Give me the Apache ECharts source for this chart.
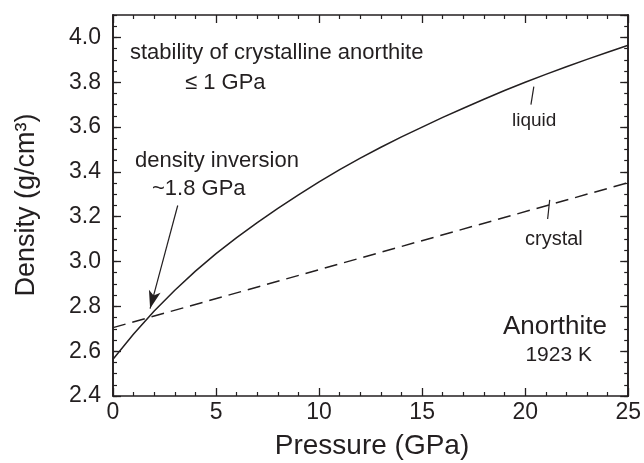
<!DOCTYPE html>
<html>
<head>
<meta charset="utf-8">
<script src="https://cdn.jsdelivr.net/npm/echarts@6/dist/echarts.min.js"></script>
<style>html,body{margin:0;padding:0;background:#fff}#c{width:644px;height:463px}</style>
</head>
<body>
<div id="c"></div>
<script>
// Data
const pressure = [0,1,2,3,4,5,6,7,8,9,10,11,12,13,14,15,16,17,18,19,20,21,22,23,24,25];
const liquidDensity = [2.564,2.677,2.779,2.872,2.957,3.035,3.107,3.174,3.237,3.297,3.355,3.410,3.461,3.510,3.556,3.600,3.643,3.684,3.724,3.763,3.800,3.835,3.869,3.902,3.934,3.965];
const crystalPressure = [0,25];
const crystalDensity = [2.705,3.352];
const xTicks = [0,5,10,15,20,25];
const yTicks = [2.4,2.6,2.8,3.0,3.2,3.4,3.6,3.8,4.0];
// annotation pointers (data coordinates)
const arrowLine = [[3.14,3.25],[1.80,2.79]];
const liquidPointer = [[20.42,3.78],[20.28,3.70]];
const crystalPointer = [[21.19,3.275],[21.09,3.19]];

const FONT = '"Liberation Sans", Arial, sans-serif';
const INK = '#231f20';
const chart = echarts.init(document.getElementById('c'), null, {renderer:'canvas'});

const X0 = 0, X1 = 25, Y0 = 2.4, Y1 = 4.1;
function xAx(pos, show){
  return {type:'value', position:pos, min:X0, max:X1, interval:5,
    axisLine:{show:true, onZero:false, lineStyle:{color:INK, width:1.6}},
    axisTick:{show:true, inside:true, length:8, lineStyle:{color:INK, width:1.3}},
    minorTick:{show:true, splitNumber:5, length:4, lineStyle:{color:INK, width:1.2}},
    splitLine:{show:false}, minorSplitLine:{show:false},
    axisLabel:{show:show, color:INK, fontFamily:FONT, fontSize:23, margin:5,
      formatter:v => xTicks.includes(v) ? String(v) : ''}};
}
function yAx(pos, show, minor){
  return {type:'value', position:pos, min:Y0, max:Y1, interval: minor?0.05:0.2,
    axisLine:{show:true, onZero:false, lineStyle:{color:INK, width:1.6}},
    axisTick:{show:true, inside:true, length: minor?4:8, lineStyle:{color:INK, width:minor?1.2:1.3}},
    splitLine:{show:false},
    axisLabel:{show:show, color:INK, fontFamily:FONT, fontSize:23, margin:12, showMaxLabel:false,
      formatter:v => yTicks.some(t=>Math.abs(t-v)<1e-6) ? v.toFixed(1) : ''}};
}

const txt = (x,y,text,size,align) => ({type:'text', x:x, y:y, style:{text:text, font: size+'px '+FONT, fill:INK, textAlign:align||'left', textVerticalAlign:'middle'}});

chart.setOption({
  animation:false,
  backgroundColor:'#fff',
  grid:{left:113, right:13, top:15, bottom:67},
  xAxis:[xAx('bottom', true), xAx('top', false)],
  yAxis:[yAx('left', true, false), yAx('right', false, false), yAx('left', false, true), yAx('right', false, true)],
  series:[
    {type:'line', name:'liquid', data: pressure.map((p,i)=>[p, liquidDensity[i]]), smooth:false, symbol:'none',
     lineStyle:{color:INK, width:1.5, join:'round'}, xAxisIndex:0, yAxisIndex:0,
     markLine:{silent:true, symbol:['none','none'], label:{show:false},
       lineStyle:{color:INK, width:1.2, type:'solid'},
       data:[
         [{coord:liquidPointer[0], symbol:'none'},{coord:liquidPointer[1], symbol:'none'}],
         [{coord:crystalPointer[0], symbol:'none'},{coord:crystalPointer[1], symbol:'none'}],
         [{coord:arrowLine[0], symbol:'none'},{coord:arrowLine[1], symbol:'arrow', symbolSize:[9,18]}]
       ]}},
    {type:'line', name:'crystal', data: crystalPressure.map((p,i)=>[p, crystalDensity[i]]), symbol:'none',
     lineStyle:{color:INK, width:1.5, type:[13,7]}, xAxisIndex:0, yAxisIndex:0}
  ],
  graphic:[
    txt(130, 53, 'stability of crystalline anorthite', 22),
    txt(185, 83, '\u2264 1 GPa', 22),
    txt(135, 161, 'density inversion', 22),
    txt(152, 189, '~1.8 GPa', 22),
    txt(512, 121, 'liquid', 19),
    txt(525, 239, 'crystal', 20),
    txt(607, 327, 'Anorthite', 26, 'right'),
    txt(592, 355, '1923 K', 21, 'right'),
    txt(372, 446, 'Pressure (GPa)', 28, 'center'),
    {type:'text', x:27, y:205, rotation:Math.PI/2, style:{text:'Density (g/cm\u00b3)', font:'27px '+FONT, fill:INK, textAlign:'center', textVerticalAlign:'middle'}}
  ]
});
</script>
</body>
</html>
